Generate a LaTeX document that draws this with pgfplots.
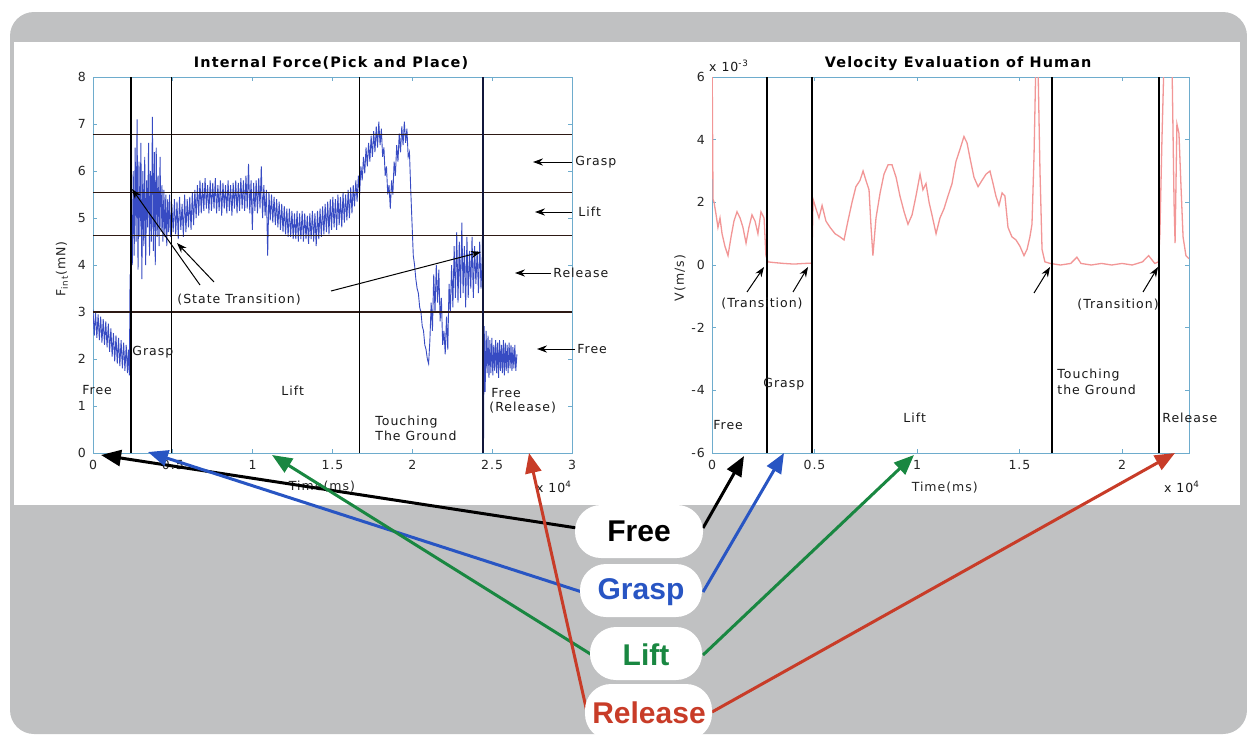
\documentclass[border=0pt]{standalone}
\usepackage{pgfplots}
\pgfplotsset{compat=1.18}
\usepackage{pgfplotstable}
\usepackage{fontspec}
\setmainfont{DejaVu Sans}
\newfontfamily\cf[LetterSpace=8]{DejaVu Sans}
\newfontfamily\bub{Liberation Sans}
\usetikzlibrary{arrows.meta}
\definecolor{panelgray}{RGB}{192,193,194}
\definecolor{axcol}{RGB}{110,172,205}
\definecolor{forceblue}{RGB}{55,75,195}
\definecolor{velred}{RGB}{242,150,150}
\definecolor{arrblue}{RGB}{40,85,195}
\definecolor{arrgreen}{RGB}{25,135,65}
\definecolor{arrred}{RGB}{200,60,40}
\definecolor{hline}{RGB}{45,25,20}

\pgfplotstableread{
x y
0.000 3.05
0.008 2.50
0.016 3.00
0.024 2.45
0.032 2.95
0.040 2.40
0.048 2.90
0.056 2.35
0.064 2.85
0.072 2.30
0.080 2.80
0.088 2.25
0.096 2.75
0.104 2.15
0.112 2.65
0.120 2.05
0.128 2.55
0.136 1.95
0.144 2.50
0.152 1.90
0.160 2.45
0.168 1.85
0.176 2.40
0.184 1.80
0.192 2.35
0.200 1.75
0.208 2.30
0.216 1.70
0.222 2.20
0.228 1.65
0.232 3.80
0.236 2.90
0.240 5.40
0.246 4.00
0.252 6.00
0.258 4.20
0.264 6.50
0.270 4.50
0.276 7.10
0.282 3.90
0.288 6.20
0.294 4.60
0.300 6.60
0.306 3.70
0.312 6.00
0.318 4.40
0.324 6.30
0.330 4.00
0.336 5.80
0.342 4.80
0.348 6.60
0.354 4.20
0.360 6.00
0.366 4.50
0.372 7.15
0.378 4.30
0.384 6.40
0.390 4.00
0.396 6.50
0.402 4.60
0.408 5.90
0.414 4.40
0.420 6.30
0.426 4.70
0.432 5.70
0.438 4.50
0.444 5.60
0.450 4.60
0.456 5.50
0.462 4.40
0.468 5.40
0.474 4.70
0.480 5.50
0.486 4.60
0.494 5.30
0.502 4.70
0.510 5.40
0.518 4.65
0.526 5.35
0.534 4.55
0.542 5.45
0.550 4.75
0.558 5.30
0.566 4.60
0.574 5.50
0.582 4.70
0.590 5.40
0.598 4.80
0.606 5.45
0.614 4.75
0.622 5.55
0.630 4.85
0.638 5.60
0.646 5.00
0.654 5.70
0.662 5.05
0.670 5.80
0.678 5.10
0.686 5.75
0.694 5.15
0.702 5.85
0.710 5.20
0.718 5.70
0.726 5.10
0.734 5.80
0.742 5.15
0.750 5.75
0.758 5.20
0.766 5.85
0.774 5.10
0.782 5.70
0.790 5.15
0.798 5.80
0.806 5.05
0.814 5.75
0.822 5.20
0.830 5.70
0.838 5.10
0.846 5.80
0.854 5.15
0.862 5.70
0.870 5.05
0.878 5.75
0.886 5.20
0.894 5.80
0.902 5.10
0.910 5.75
0.918 5.15
0.926 5.85
0.934 5.20
0.942 5.80
0.950 5.15
0.958 5.90
0.966 5.20
0.974 6.15
0.982 5.10
0.990 5.80
0.998 4.75
1.006 5.75
1.014 5.15
1.022 5.80
1.030 5.10
1.038 5.85
1.046 5.20
1.054 6.10
1.062 5.00
1.070 5.70
1.078 5.05
1.086 5.60
1.094 4.20
1.102 5.55
1.110 4.95
1.118 5.50
1.126 4.90
1.134 5.45
1.142 4.85
1.150 5.40
1.158 4.80
1.166 5.35
1.174 4.75
1.182 5.30
1.190 4.70
1.198 5.25
1.206 4.65
1.214 5.20
1.222 4.60
1.230 5.20
1.238 4.60
1.246 5.15
1.254 4.55
1.262 5.10
1.270 4.55
1.278 5.15
1.286 4.50
1.294 5.10
1.302 4.55
1.310 5.15
1.318 4.50
1.326 5.10
1.334 4.55
1.342 5.05
1.350 4.45
1.358 5.10
1.366 4.55
1.374 5.15
1.382 4.50
1.390 5.10
1.398 4.40
1.406 5.15
1.414 4.55
1.422 5.20
1.430 4.60
1.438 5.25
1.446 4.65
1.454 5.30
1.462 4.70
1.470 5.35
1.478 4.65
1.486 5.40
1.494 4.75
1.502 5.45
1.510 4.80
1.518 5.40
1.526 4.75
1.534 5.50
1.542 4.85
1.550 5.45
1.558 4.80
1.566 5.55
1.574 4.90
1.582 5.50
1.590 4.95
1.598 5.60
1.606 5.00
1.614 5.65
1.622 5.10
1.630 5.70
1.638 5.25
1.646 5.80
1.654 5.35
1.662 5.90
1.670 5.50
1.678 6.10
1.686 5.80
1.694 6.30
1.702 5.95
1.710 6.50
1.718 6.10
1.726 6.60
1.734 6.20
1.742 6.75
1.750 6.30
1.758 6.85
1.766 6.40
1.774 6.95
1.782 6.50
1.790 7.05
1.798 6.55
1.806 6.90
1.814 6.30
1.822 6.50
1.830 5.90
1.838 6.10
1.846 5.50
1.854 5.70
1.862 5.20
1.870 5.80
1.878 5.50
1.886 6.20
1.894 5.90
1.902 6.55
1.910 6.20
1.918 6.80
1.926 6.40
1.934 6.95
1.942 6.55
1.950 7.05
1.958 6.60
1.966 6.90
1.974 6.30
1.982 6.40
1.990 5.60
1.998 4.90
2.006 4.20
2.014 4.00
2.022 3.70
2.030 3.50
2.038 3.40
2.046 3.10
2.054 3.00
2.062 2.70
2.070 2.60
2.078 2.30
2.086 2.20
2.094 2.00
2.102 1.90
2.110 2.40
2.118 3.20
2.126 2.60
2.134 3.80
2.142 3.00
2.150 4.00
2.158 3.20
2.166 3.90
2.174 2.80
2.182 3.30
2.190 2.30
2.198 2.60
2.206 2.10
2.214 2.90
2.222 2.20
2.230 3.60
2.238 3.00
2.246 4.00
2.254 3.10
2.262 4.40
2.270 3.30
2.278 4.70
2.286 3.20
2.294 4.50
2.302 3.30
2.310 4.90
2.318 3.40
2.326 4.40
2.334 3.10
2.342 4.60
2.350 3.30
2.358 4.30
2.366 3.50
2.374 4.60
2.382 3.30
2.390 4.40
2.398 3.60
2.406 4.30
2.414 3.40
2.422 4.50
2.430 3.50
2.438 4.20
2.443 5.80
2.446 0.30
2.450 2.70
2.456 1.30
2.462 2.60
2.468 1.70
2.474 2.50
2.480 1.60
2.486 2.40
2.492 1.70
2.498 2.45
2.504 1.65
2.510 2.30
2.516 1.75
2.522 2.40
2.528 1.70
2.534 2.35
2.540 1.60
2.546 2.40
2.552 1.75
2.558 2.30
2.564 1.70
2.570 2.40
2.576 1.65
2.582 2.35
2.588 1.75
2.594 2.30
2.600 1.70
2.606 2.35
2.612 1.80
2.618 2.30
2.624 1.75
2.630 2.25
2.636 1.80
2.642 2.30
2.648 1.75
2.655 2.10
}\forcedata

\pgfplotstableread{
x y
0.000 7.00
0.005 2.10
0.010 2.00
0.020 1.60
0.029 1.20
0.039 1.50
0.049 1.00
0.063 0.60
0.078 0.30
0.093 0.90
0.107 1.40
0.122 1.70
0.137 1.50
0.151 1.20
0.166 0.70
0.180 1.20
0.195 1.60
0.210 1.40
0.224 1.00
0.239 1.70
0.254 1.50
0.263 0.30
0.273 0.10
0.300 0.08
0.350 0.05
0.400 0.03
0.450 0.05
0.486 0.06
0.490 1.00
0.493 2.10
0.507 1.80
0.522 1.50
0.537 1.90
0.556 1.40
0.576 1.20
0.600 1.00
0.624 0.90
0.644 0.80
0.663 1.40
0.683 2.00
0.702 2.50
0.722 2.70
0.737 3.00
0.751 2.70
0.766 2.40
0.776 1.20
0.785 0.30
0.800 1.50
0.820 2.30
0.839 2.90
0.859 3.20
0.878 3.20
0.898 2.80
0.917 2.20
0.937 1.70
0.956 1.30
0.976 1.60
0.995 2.20
1.015 2.90
1.029 2.40
1.044 2.60
1.059 2.00
1.073 1.60
1.093 1.00
1.112 1.50
1.132 1.80
1.151 2.20
1.171 2.60
1.190 3.30
1.210 3.70
1.229 4.10
1.244 3.90
1.259 3.40
1.278 2.80
1.298 2.50
1.317 2.70
1.337 2.90
1.356 3.00
1.371 2.60
1.385 2.20
1.400 1.90
1.415 2.30
1.429 2.20
1.444 1.20
1.463 0.90
1.483 0.80
1.502 0.60
1.522 0.30
1.537 0.50
1.551 0.90
1.561 1.30
1.571 3.50
1.580 6.50
1.590 6.50
1.600 3.00
1.610 0.50
1.624 0.10
1.650 0.05
1.700 0.00
1.750 0.05
1.780 0.25
1.800 0.05
1.850 0.00
1.900 0.05
1.950 0.00
2.000 0.05
2.050 0.00
2.100 0.10
2.130 0.30
2.160 0.05
2.178 0.10
2.185 1.00
2.195 4.00
2.205 6.50
2.220 6.50
2.234 6.50
2.244 6.50
2.254 2.00
2.259 0.70
2.268 4.50
2.278 4.20
2.288 2.50
2.298 0.90
2.312 0.30
2.327 0.20
}\veldata

\pgfplotsset{
  chartstyle/.style={
    scale only axis,
    anchor=south west,
    axis line style={axcol, line width=0.45pt},
    every tick/.style={axcol, line width=0.45pt},
    major tick length=2pt,
    tick align=inside,
    tick label style={font=\cf\fontsize{6.25}{7}\selectfont, text=black!85},
    label style={font=\cf\fontsize{6.25}{7}\selectfont, text=black!85},
    title style={font=\cf\bfseries\fontsize{7.2}{8}\selectfont, anchor=center, yshift=-6pt},
  }
}

\begin{document}
\begin{tikzpicture}[x=0.5pt,y=-0.5pt]
\path[use as bounding box] (0,0) rectangle (1247,734);
\fill[panelgray, rounded corners=12pt] (10,12) rectangle (1247,734);
\fill[white] (14,42) rectangle (1240,505);

% ---------- Left chart ----------
\begin{axis}[chartstyle,
  at={(46.5pt,-226.5pt)}, width=239.5pt, height=188pt,
  xmin=0, xmax=3, ymin=0, ymax=8,
  xtick={0,0.5,1,1.5,2,2.5,3}, xticklabels={0,0.5,1,1.5,2,2.5,3},
  ytick={0,1,2,3,4,5,6,7,8}, yticklabels={0,1,2,3,4,5,6,7,8},
  title={Internal Force(Pick and Place)},
  title style={at={(axis description cs:0.497,1.037)}},
  xlabel={Time(ms)},
  xlabel style={at={(axis description cs:0.478,-0.09)}, anchor=center},
  ylabel={F\textsubscript{int}(mN)},
  ylabel style={at={(axis description cs:-0.065,0.49)}, anchor=center},
]
\addplot[forceblue, line width=0.45pt] table {\forcedata};
\addplot[hline, line width=0.6pt] coordinates {(0,6.78) (3,6.78)};
\addplot[hline, line width=0.6pt] coordinates {(0,5.55) (3,5.55)};
\addplot[hline, line width=0.6pt] coordinates {(0,4.62) (3,4.62)};
\addplot[hline, line width=0.6pt] coordinates {(0,3.0) (3,3.0)};
\addplot[black, line width=0.75pt] coordinates {(0.238,0) (0.238,8)};
\addplot[black, line width=0.75pt] coordinates {(0.492,0) (0.492,8)};
\addplot[black, line width=0.75pt] coordinates {(1.669,0) (1.669,8)};
\addplot[black!70!forceblue, line width=0.75pt] coordinates {(2.443,0) (2.443,8)};
\end{axis}

% ---------- Right chart ----------
\begin{axis}[chartstyle,
  at={(356pt,-226.5pt)}, width=238.5pt, height=188pt,
  xmin=0, xmax=2.327, ymin=-6, ymax=6,
  xtick={0,0.5,1,1.5,2}, xticklabels={0,0.5,1,1.5,2},
  ytick={-6,-4,-2,0,2,4,6}, yticklabels={-6,-4,-2,0,2,4,6},
  title={Velocity Evaluation of Human},
  title style={at={(axis description cs:0.516,1.037)}},
  xlabel={Time(ms)},
  xlabel style={at={(axis description cs:0.488,-0.093)}, anchor=center},
  ylabel={V(m/s)},
  ylabel style={at={(axis description cs:-0.067,0.465)}, anchor=center},
]
\addplot[velred, line width=0.65pt] table {\veldata};
\addplot[black, line width=0.75pt] coordinates {(0.268,-6) (0.268,6)};
\addplot[black, line width=0.75pt] coordinates {(0.488,-6) (0.488,6)};
\addplot[black, line width=0.75pt] coordinates {(1.6585,-6) (1.6585,6)};
\addplot[black, line width=0.75pt] coordinates {(2.180,-6) (2.180,6)};
\end{axis}

% ---------- annotations ----------
\begin{scope}[every node/.style={font=\cf\fontsize{6.25}{7}\selectfont, inner sep=0pt, text=black!90}]
\node at (554,487) {x 10\textsuperscript{4}};
\node at (1182,487) {x 10\textsuperscript{4}};
\node at (729,66) {x 10\textsuperscript{-3}};
\node[anchor=west] at (82,390) {Free};
\node[anchor=west] at (132,352) {Grasp};
\node[anchor=west] at (281,391) {Lift};
\node[anchor=west] at (177,300) {(State Transition)};
\node[anchor=west] at (375,422) {Touching};
\node[anchor=west] at (375,436) {The Ground};
\node[anchor=west] at (491,393) {Free};
\node[anchor=west] at (489,408) {(Release)};
\node[anchor=west] at (575,162) {Grasp};
\node[anchor=west] at (578,212) {Lift};
\node[anchor=west] at (553,273) {Release};
\node[anchor=west] at (577,349) {Free};
\node[anchor=west] at (713,425) {Free};
\node[anchor=west] at (763,384) {Grasp};
\node[anchor=west] at (903,418) {Lift};
\node[anchor=west] at (721,304) {(Transition)};
\node[anchor=west] at (1057,375) {Touching};
\node[anchor=west] at (1057,390) {the Ground};
\node[anchor=west] at (1077,305) {(Transition)};
\node[anchor=west] at (1162,418) {Release};
\end{scope}

\begin{scope}[black, line width=0.5pt, -{Stealth[length=5pt,width=3.6pt]}]
\draw (572,162) -- (533,162);
\draw (572,212) -- (535,212);
\draw (551,273) -- (515,273);
\draw (575,349) -- (537,349);
\draw (200,285) -- (132,189);
\draw (214,282) -- (177,243);
\draw (331,291) -- (481,252);
\draw (747,292) -- (764,267);
\draw (793,292) -- (808,267);
\draw (1034,293) -- (1050,267);
\draw (1143,292) -- (1158,267);
\end{scope}

% ---------- bubble arrows ----------
\begin{scope}[line width=1.5pt, -{Triangle[length=10pt,width=8pt]}]
\draw[black] (577,528) -- (101,455);
\draw[black] (703,528) -- (744,456);
\draw[arrblue] (582,592) -- (148,452);
\draw[arrblue] (703,592) -- (784,453);
\draw[arrgreen] (592,655) -- (272,455);
\draw[arrgreen] (703,655) -- (914,455);
\draw[arrred] (587,712) -- (529,453);
\draw[arrred] (712,712) -- (1175,453);
\end{scope}

% ---------- bubbles ----------
\begin{scope}
\clip (0,0) rectangle (1247,734);
\fill[white, rounded corners=13pt] (575,505) rectangle (703,558);
\fill[white, rounded corners=13pt] (580,564) rectangle (702,617);
\fill[white, rounded corners=13pt] (590,627) rectangle (702,680);
\fill[white, rounded corners=13pt] (585,684) rectangle (712,740);
\end{scope}
\begin{scope}[every node/.style={font=\bub\bfseries\fontsize{15}{18}\selectfont, inner sep=0pt}]
\node[text=black] at (639,531) {Free};
\node[text=arrblue] at (641,592) {Grasp};
\node[text=arrgreen] at (646,655) {Lift};
\node[text=arrred] at (649,713) {Release};
\end{scope}
\end{tikzpicture}
\end{document}
